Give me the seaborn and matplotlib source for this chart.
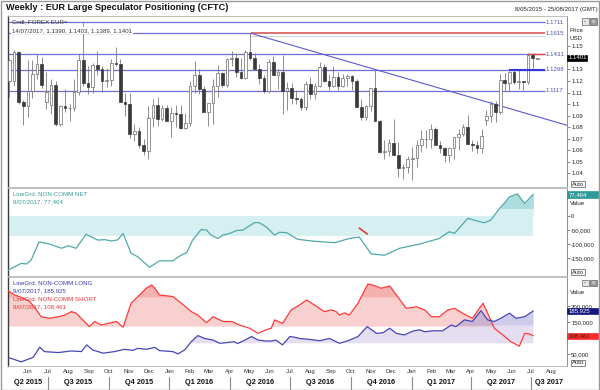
import matplotlib
matplotlib.use('Agg')
import matplotlib.pyplot as plt
import matplotlib.dates as mdates
import matplotlib.transforms as mtrans
from matplotlib.patches import Rectangle
from matplotlib.lines import Line2D
import numpy as np
import pandas as pd
import seaborn as sns

sns.set_theme(style='white')
plt.rcParams['font.family'] = ['Liberation Sans', 'DejaVu Sans']

# ---- weekly EUR= candles (week starting monday) ----
week_start = pd.date_range('2015-05-04', '2017-07-10', freq='7D')
opens = [1.1200, 1.1200, 1.1450, 1.1015, 1.0987, 1.1111, 1.1262, 1.1350, 1.1020, 1.0990,
         1.1165, 1.0830, 1.0983, 1.0963, 1.0967, 1.1105, 1.1384, 1.1183, 1.1150, 1.1337,
         1.1300, 1.1197, 1.1210, 1.1357, 1.1350, 1.1017, 1.1000, 1.0742, 1.0768, 1.0646,
         1.0593, 1.0882, 1.0988, 1.0867, 1.0967, 1.0855, 1.0922, 1.0915, 1.0795, 1.0831,
         1.1155, 1.1256, 1.1130, 1.0933, 1.1005, 1.1155, 1.1270, 1.1168, 1.1390, 1.1398,
         1.1281, 1.1224, 1.1453, 1.1400, 1.1308, 1.1225, 1.1113, 1.1367, 1.1250, 1.1281,
         1.1117, 1.1135, 1.1053, 1.1040, 1.0976, 1.1175, 1.1086, 1.1160, 1.1325, 1.1198,
         1.1154, 1.1233, 1.1153, 1.1225, 1.1240, 1.1201, 1.0971, 1.0884, 1.0985, 1.1140,
         1.0851, 1.0587, 1.0590, 1.0665, 1.0560, 1.0447, 1.0453, 1.0520, 1.0530, 1.0645,
         1.0700, 1.0696, 1.0784, 1.0640, 1.0614, 1.0560, 1.0620, 1.0715, 1.0740, 1.0797,
         1.0652, 1.0640, 1.0615, 1.0860, 1.0895, 1.0998, 1.0933, 1.1205, 1.1180, 1.1280,
         1.1195, 1.1197, 1.1195, 1.1424, 1.1390]
highs = [1.1391, 1.1467, 1.1460, 1.1039, 1.1385, 1.1386, 1.1436, 1.1410, 1.1278, 1.1215,
         1.1200, 1.0995, 1.1130, 1.1000, 1.1214, 1.1439, 1.1714, 1.1332, 1.1360, 1.1460,
         1.1330, 1.1317, 1.1387, 1.1495, 1.1390, 1.1095, 1.1095, 1.0830, 1.0800, 1.0700,
         1.0981, 1.1043, 1.1059, 1.0990, 1.0990, 1.0970, 1.0990, 1.0990, 1.0925, 1.1200,
         1.1376, 1.1300, 1.1160, 1.1010, 1.1218, 1.1342, 1.1278, 1.1400, 1.1465, 1.1440,
         1.1398, 1.1470, 1.1616, 1.1445, 1.1350, 1.1250, 1.1395, 1.1415, 1.1300, 1.1427,
         1.1187, 1.1185, 1.1120, 1.1060, 1.1200, 1.1235, 1.1185, 1.1366, 1.1345, 1.1250,
         1.1327, 1.1282, 1.1257, 1.1260, 1.1250, 1.1215, 1.1040, 1.0990, 1.1140, 1.1300,
         1.0860, 1.0686, 1.0700, 1.0873, 1.0670, 1.0480, 1.0550, 1.0630, 1.0685, 1.0775,
         1.0775, 1.0829, 1.0800, 1.0680, 1.0630, 1.0630, 1.0715, 1.0785, 1.0828, 1.0905,
         1.0690, 1.0680, 1.0780, 1.0951, 1.1024, 1.1022, 1.1265, 1.1268, 1.1285, 1.1296,
         1.1296, 1.1200, 1.1445, 1.1445, 1.1403]
lows = [1.1064, 1.1160, 1.1000, 1.0819, 1.0888, 1.1050, 1.1220, 1.1135, 1.0955, 1.0915,
        1.0808, 1.0808, 1.0930, 1.0848, 1.0937, 1.1080, 1.1157, 1.1087, 1.1100, 1.1250,
        1.1106, 1.1150, 1.1160, 1.1330, 1.1020, 1.0895, 1.0705, 1.0675, 1.0615, 1.0560,
        1.0524, 1.0800, 1.0805, 1.0850, 1.0850, 1.0711, 1.0804, 1.0780, 1.0780, 1.0810,
        1.1100, 1.1090, 1.0950, 1.0810, 1.0822, 1.1057, 1.1144, 1.1144, 1.1330, 1.1233,
        1.1214, 1.1215, 1.1380, 1.1308, 1.1175, 1.1095, 1.1100, 1.1250, 1.1130, 1.0912,
        1.0950, 1.1000, 1.1000, 1.0952, 1.0950, 1.1045, 1.1045, 1.1150, 1.1190, 1.1120,
        1.1150, 1.1120, 1.1150, 1.1160, 1.1123, 1.0970, 1.0860, 1.0860, 1.0940, 1.0850,
        1.0570, 1.0520, 1.0550, 1.0560, 1.0367, 1.0352, 1.0400, 1.0340, 1.0450, 1.0580,
        1.0620, 1.0620, 1.0640, 1.0570, 1.0494, 1.0495, 1.0525, 1.0600, 1.0725, 1.0650,
        1.0590, 1.0570, 1.0570, 1.0820, 1.0840, 1.0840, 1.0910, 1.1110, 1.1110, 1.1170,
        1.1130, 1.1120, 1.1170, 1.1310, 1.1389]
closes = [1.1380, 1.1452, 1.1015, 1.0987, 1.1111, 1.1262, 1.1350, 1.1165, 1.1105, 1.1165,
          1.0830, 1.0983, 1.0963, 1.0967, 1.1105, 1.1384, 1.1183, 1.1150, 1.1337, 1.1300,
          1.1197, 1.1210, 1.1357, 1.1350, 1.1017, 1.1000, 1.0742, 1.0768, 1.0646, 1.0593,
          1.0882, 1.0988, 1.0867, 1.0967, 1.0855, 1.0922, 1.0915, 1.0795, 1.0831, 1.1155,
          1.1256, 1.1130, 1.0933, 1.1005, 1.1155, 1.1270, 1.1168, 1.1390, 1.1398, 1.1281,
          1.1224, 1.1453, 1.1400, 1.1308, 1.1225, 1.1113, 1.1367, 1.1250, 1.1281, 1.1117,
          1.1135, 1.1053, 1.1040, 1.0976, 1.1175, 1.1086, 1.1160, 1.1325, 1.1198, 1.1154,
          1.1233, 1.1153, 1.1225, 1.1240, 1.1201, 1.0971, 1.0884, 1.0985, 1.1140, 1.0851,
          1.0587, 1.0590, 1.0665, 1.0560, 1.0447, 1.0453, 1.0520, 1.0530, 1.0645, 1.0700,
          1.0696, 1.0784, 1.0640, 1.0614, 1.0560, 1.0620, 1.0715, 1.0740, 1.0797, 1.0652,
          1.0640, 1.0615, 1.0725, 1.0895, 1.0998, 1.0933, 1.1205, 1.1180, 1.1280, 1.1195,
          1.1197, 1.1195, 1.1424, 1.1398, 1.1401]

# support / resistance levels and trend line
levels = [1.1711, 1.1615, 1.1431, 1.1298, 1.1117]
trend_dates = ['2016-05-03', '2017-08-24']
trend_vals = [1.1615, 1.0815]

# ---- CFTC non-commercial positions ----
net_dates = ['2015-05-02', '2015-05-22', '2015-05-30', '2015-06-06', '2015-06-18', '2015-07-04', '2015-07-22',
             '2015-08-01', '2015-08-13', '2015-08-28', '2015-09-15', '2015-09-25', '2015-10-05', '2015-10-15',
             '2015-10-23', '2015-11-04', '2015-11-14', '2015-12-02', '2015-12-17', '2016-01-06', '2016-01-19',
             '2016-01-27', '2016-02-05', '2016-02-18', '2016-02-26', '2016-03-04', '2016-03-14', '2016-03-22',
             '2016-04-01', '2016-04-11', '2016-04-21', '2016-05-09', '2016-05-16', '2016-05-26', '2016-06-08',
             '2016-06-15', '2016-06-26', '2016-07-13', '2016-08-07', '2016-09-07', '2016-09-29', '2016-10-14',
             '2016-11-01', '2016-11-21', '2016-12-14', '2017-01-13', '2017-02-12', '2017-02-27', '2017-03-07',
             '2017-03-27', '2017-04-09', '2017-04-21', '2017-05-01', '2017-05-14', '2017-05-21', '2017-05-29',
             '2017-06-10', '2017-06-21', '2017-07-04']
net_vals = [-193000, -169000, -171000, -157000, -92000, -100000, -115000, -106000, -115000, -65000,
            -86000, -84000, -89000, -85000, -62000, -133000, -145000, -183000, -160000, -160000,
            -139000, -131000, -86000, -48000, -50000, -68000, -80000, -68000, -62000, -52000,
            -50000, -23000, -24000, -38000, -68000, -58000, -59000, -83000, -90000, -95000,
            -80000, -75000, -135000, -140000, -115000, -100000, -80000, -56000, -62000, -8000,
            -17000, -24000, -14000, 27000, 45000, 69000, 79000, 45000, 77464]

long_dates = ['2015-05-02', '2015-05-22', '2015-06-09', '2015-06-19', '2015-06-26', '2015-07-17', '2015-08-06',
              '2015-08-21', '2015-08-29', '2015-09-07', '2015-09-23', '2015-10-10', '2015-10-25', '2015-11-07',
              '2015-11-14', '2015-11-27', '2015-12-10', '2015-12-17', '2016-01-06', '2016-01-14', '2016-01-24',
              '2016-02-03', '2016-02-13', '2016-02-23', '2016-03-07', '2016-03-17', '2016-03-27', '2016-04-08',
              '2016-04-13', '2016-04-24', '2016-05-04', '2016-05-14', '2016-05-26', '2016-06-03', '2016-06-10',
              '2016-06-20', '2016-07-01', '2016-07-08', '2016-07-16', '2016-07-31', '2016-08-15', '2016-08-30',
              '2016-09-14', '2016-09-27', '2016-10-12', '2016-10-26', '2016-11-09', '2016-11-19', '2016-11-29',
              '2016-12-09', '2016-12-21', '2017-01-03', '2017-01-13', '2017-01-21', '2017-02-02', '2017-02-17',
              '2017-03-02', '2017-03-09', '2017-03-22', '2017-04-03', '2017-04-16', '2017-04-26', '2017-05-06',
              '2017-05-16', '2017-05-29', '2017-06-08', '2017-06-21', '2017-07-04']
long_vals = [41000, 27000, 41000, 73000, 59000, 56000, 61000, 59000, 80000, 64000,
             54000, 59000, 66000, 63000, 69000, 66000, 72000, 62000, 59000, 52000,
             64000, 90000, 109000, 100000, 95000, 85000, 87000, 90000, 84000, 95000,
             106000, 95000, 92000, 92000, 95000, 80000, 106000, 104000, 100000, 97000,
             93000, 100000, 85000, 93000, 106000, 137000, 116000, 118000, 132000, 116000,
             111000, 123000, 127000, 121000, 124000, 124000, 142000, 137000, 158000, 153000,
             187000, 158000, 153000, 163000, 179000, 163000, 168000, 185925]

short_dates = ['2015-05-02', '2015-05-12', '2015-05-25', '2015-06-04', '2015-06-14', '2015-06-21', '2015-07-04',
               '2015-07-17', '2015-07-27', '2015-08-06', '2015-08-13', '2015-08-23', '2015-09-02', '2015-09-10',
               '2015-09-20', '2015-09-30', '2015-10-13', '2015-10-23', '2015-11-04', '2015-11-17', '2015-11-27',
               '2015-12-05', '2015-12-10', '2015-12-17', '2016-01-06', '2016-01-19', '2016-02-03', '2016-02-13',
               '2016-02-26', '2016-03-07', '2016-03-22', '2016-04-04', '2016-04-16', '2016-05-01', '2016-05-14',
               '2016-05-26', '2016-06-03', '2016-06-08', '2016-06-20', '2016-07-03', '2016-07-16', '2016-07-26',
               '2016-08-07', '2016-08-22', '2016-09-02', '2016-09-09', '2016-09-14', '2016-09-22', '2016-09-29',
               '2016-10-12', '2016-10-27', '2016-11-03', '2016-11-16', '2016-11-29', '2016-12-09', '2016-12-24',
               '2017-01-08', '2017-01-21', '2017-01-31', '2017-02-12', '2017-02-25', '2017-03-07', '2017-03-19',
               '2017-04-03', '2017-04-19', '2017-04-26', '2017-05-06', '2017-05-19', '2017-05-31', '2017-06-13',
               '2017-06-21', '2017-06-28', '2017-07-04']
short_vals = [249000, 236000, 226000, 215000, 189000, 168000, 163000, 168000, 173000, 184000,
              179000, 158000, 137000, 153000, 142000, 147000, 153000, 135000, 210000, 236000,
              257000, 267000, 257000, 236000, 231000, 210000, 184000, 173000, 149000, 168000,
              153000, 153000, 142000, 132000, 116000, 127000, 132000, 158000, 147000, 189000,
              205000, 220000, 205000, 184000, 189000, 184000, 173000, 180000, 173000, 210000,
              270000, 267000, 257000, 264000, 236000, 194000, 199000, 189000, 168000, 168000,
              189000, 194000, 179000, 163000, 210000, 179000, 132000, 111000, 90000, 76000,
              116000, 114000, 108461]

# little red drawing on the net pane
mark_dates = ['2016-10-14', '2016-10-26']
mark_vals = [-43000, -64000]

W, H = 600, 390
fig = plt.figure(figsize=(6, 3.9), dpi=100)


def pane(x0, y0, x1, y1):
    return fig.add_axes([x0 / W, 1 - y1 / H, (x1 - x0) / W, (y1 - y0) / H])


def put(x, y, s, **kw):
    kw.setdefault('fontsize', 4.4)
    kw.setdefault('va', 'center')
    kw.setdefault('color', '#222222')
    return fig.text(x / W, 1 - y / H, s, **kw)


ax1 = pane(8, 16, 567, 186.5)
ax2 = pane(8, 187.5, 567, 276)
ax3 = pane(8, 277, 567, 366)
xlo, xhi = pd.Timestamp('2015-05-02'), pd.Timestamp('2017-08-24')
line_end = pd.Timestamp('2017-07-21')
lab_date = pd.Timestamp('2017-07-23')

# ---- price pane ----
o = np.array(opens)
c = np.array(closes)
up = c >= o
blo = np.minimum(o, c)
bh = np.maximum(np.abs(c - o), 0.0004)
ax1.vlines(week_start, lows, highs, color='#7a7a7a', lw=0.6, zorder=3)
ax1.bar(week_start[up], bh[up], bottom=blo[up], width=4.0, color='white',
        edgecolor='#6a6a6a', linewidth=0.5, zorder=4)
ax1.bar(week_start[~up], bh[~up], bottom=blo[~up], width=4.0, color='#3a3a3a',
        edgecolor='#3a3a3a', linewidth=0.5, zorder=4)

hcol = '#6f6fd6'
peak = pd.Timestamp(trend_dates[0])
ax1.hlines(levels[0], xlo, line_end, color=hcol, lw=0.9, zorder=2)
ax1.hlines(levels[1], xlo, peak, color=hcol, lw=0.9, zorder=2)
ax1.hlines(levels[1] - 0.0022, peak, line_end, color='#d4d4d4', lw=0.8, zorder=2)
ax1.hlines(levels[1], peak, line_end, color='#d64848', lw=1.1, zorder=2)
ax1.hlines(levels[2], xlo, line_end, color=hcol, lw=0.9, zorder=2)
ax1.hlines(levels[2], pd.Timestamp('2017-06-26'), line_end, color='#d64848', lw=1.0, zorder=5)
ax1.hlines(levels[3], xlo, line_end, color=hcol, lw=0.9, zorder=2)
ax1.hlines(levels[3], pd.Timestamp('2017-05-29'), line_end, color='#3535d8', lw=1.5, zorder=5)
ax1.hlines(levels[4], xlo, line_end, color=hcol, lw=0.9, zorder=2)
ax1.plot(pd.to_datetime(trend_dates), trend_vals, color='#5a5ad0', lw=0.8, zorder=2)
for lv in levels:
    ax1.text(lab_date, lv, f'{lv:.4f}', color='#4f4fb8', fontsize=4.4, va='center', zorder=6)

ax1.set_ylim(1.0283, 1.1765)
# 1.14 sits under the last-price box, so it is left out
pt = [1.04, 1.05, 1.06, 1.07, 1.08, 1.09, 1.10, 1.11, 1.12, 1.13, 1.15]
ax1.set_yticks(pt)
ax1.set_yticklabels(['1.1' if abs(v - 1.1) < 1e-9 else f'{v:.2f}' for v in pt])
for t in ax1.get_yticklabels():
    if t.get_text() == '1.1':
        t.set_fontweight('bold')
        t.set_fontsize(5.2)

# ---- net pane ----
net = pd.DataFrame({'date': pd.to_datetime(net_dates), 'value': net_vals})
nv = net['value'].to_numpy()
ax2.fill_between(net['date'].iloc[[0, -1]], -71000, 0, color='#d6f0f1', lw=0, zorder=1)
ax2.fill_between(net['date'], nv, 0, where=nv > 0, interpolate=True, color='#d6f0f1', lw=0, zorder=1)
ax2.fill_between(net['date'], nv, 27000, where=nv > 27000, interpolate=True, color='#aedddd', lw=0, zorder=1)
sns.lineplot(data=net, x='date', y='value', ax=ax2, color='#4fa9a9', lw=0.9, estimator=None, zorder=3)
ax2.plot(pd.to_datetime(mark_dates), mark_vals, color='#e03a3a', lw=1.2, zorder=4)
ax2.set_ylim(-214000, 102000)
nt = [0, -50000, -100000, -150000]
ax2.set_yticks(nt)
ax2.set_yticklabels([f'{v:,}' for v in nt])
ax2.get_yticklabels()[0].set_fontweight('bold')

# ---- long / short pane ----
lng = pd.DataFrame({'date': pd.to_datetime(long_dates), 'value': long_vals})
sht = pd.DataFrame({'date': pd.to_datetime(short_dates), 'value': short_vals})
lv_ = lng['value'].to_numpy()
sv_ = sht['value'].to_numpy()
ax3.fill_between(sht['date'], sv_, 137000, where=sv_ > 137000, interpolate=True,
                 color='#ee6666', alpha=0.3, lw=0, zorder=1)
ax3.fill_between(sht['date'], sv_, 228000, where=sv_ > 228000, interpolate=True,
                 color='#ee6666', alpha=0.3, lw=0, zorder=1)
ax3.fill_between(lng['date'], lv_, 85000, where=lv_ > 85000, interpolate=True,
                 color='#9a7fc4', alpha=0.25, lw=0, zorder=1)
ax3.fill_between(lng['date'], lv_, 142000, where=lv_ > 142000, interpolate=True,
                 color='#8a9ae0', alpha=0.25, lw=0, zorder=1)
sns.lineplot(data=sht, x='date', y='value', ax=ax3, color='#ff3b3b', lw=0.9, estimator=None, zorder=3)
sns.lineplot(data=lng, x='date', y='value', ax=ax3, color='#4646b8', lw=0.9, estimator=None, zorder=3)
ax3.set_ylim(14000, 292000)
# 100,000 sits under the short box
lt = [50000, 150000, 200000]
ax3.set_yticks(lt)
ax3.set_yticklabels([f'{v:,}' for v in lt])

# ---- shared axis styling ----
for ax in (ax1, ax2, ax3):
    ax.set_xlim(xlo, xhi)
    ax.set_xlabel('')
    ax.set_ylabel('')
    ax.yaxis.tick_right()
    ax.tick_params(axis='y', direction='out', length=2, width=0.5, color='#555555',
                   labelsize=4.3, pad=1, labelcolor='#222222')
    ax.grid(False)
    ax.set_facecolor('white')
    for s in ax.spines.values():
        s.set_color('#b4b4b4')
        s.set_linewidth(0.6)
    ax.spines['left'].set_color('#3a3a3a')
    ax.spines['left'].set_linewidth(1.0)
    ax.spines['right'].set_color('#8c8c8c')
    ax.spines['right'].set_linewidth(0.7)
for ax in (ax1, ax2):
    ax.tick_params(axis='x', bottom=False, labelbottom=False)
ax3.xaxis.set_major_locator(mdates.MonthLocator())
ax3.xaxis.set_major_formatter(mdates.DateFormatter('%b'))
ax3.tick_params(axis='x', length=0, labelsize=4.3, pad=2, labelcolor='#333333')

# quarter row under the months
qt = mtrans.blended_transform_factory(ax3.transData, fig.transFigure)
qb = pd.date_range('2015-04-01', '2017-10-01', freq='QS')
for a, b in zip(qb[:-1], qb[1:]):
    a2, b2 = max(a, xlo), min(b, xhi)
    mid = a2 + (b2 - a2) / 2
    fig.text(mdates.date2num(mid), 1 - 383 / H, f'Q{(a.month - 1) // 3 + 1} {a.year}', transform=qt,
             ha='center', va='center', fontsize=5.3, fontweight='bold', color='#111111')
    if a > xlo:
        fig.add_artist(Line2D([mdates.date2num(a)] * 2, [1 - 389 / H, 1 - 377 / H], transform=qt,
                              color='#8a8a8a', lw=0.8))

# value boxes on the right axes
def vbox(ax, val, txt, fc, tc, x0=567, x1=598, h=6.5):
    yd = ax.transData.transform((mdates.date2num(xlo), val))[1]
    fig.add_artist(Rectangle((x0 / W, (yd - h / 2) / H), (x1 - x0) / W, h / H,
                             transform=fig.transFigure, fc=fc, ec=fc, lw=0.5, zorder=10))
    fig.text((x0 + 1.5) / W, yd / H, txt, color=tc, fontsize=4.3, va='center', zorder=11)


vbox(ax1, closes[-1], '1.1401', '#000000', 'white', x1=587)
vbox(ax2, net_vals[-1], '77,464', '#2f9a9a', 'white')
vbox(ax3, long_vals[-1], '185,925', '#15157e', 'white')
vbox(ax3, short_vals[-1], '108,461', '#ff2a2a', '#222222')


def auto_box(y):
    fig.add_artist(Rectangle((571 / W, 1 - (y + 3) / H), 14 / W, 6 / H, transform=fig.transFigure,
                             fc='white', ec='#555555', lw=0.5, zorder=10))
    put(572, y, 'Auto', fontsize=4.2, zorder=11)


for yy in (184, 272, 363):
    auto_box(yy)


def icons(y):
    for xx, fc in ((582, '#e6e6e6'), (590, '#9a9a9a')):
        fig.add_artist(Rectangle((xx / W, 1 - (y + 6.5) / H), 6.5 / W, 6.5 / H,
                                 transform=fig.transFigure, fc=fc, ec='#666666', lw=0.5, zorder=10))
    put(585.2, y + 3, '-', fontsize=4.5, ha='center', zorder=11)
    put(593.2, y + 3, 'x', fontsize=4.5, ha='center', color='white', zorder=11)


icons(18.5)
icons(279.5)

# texts
put(6, 8, 'Weekly : EUR Large Speculator Positioning (CFTC)', fontsize=6.6, fontweight='bold', color='#111111')
put(598, 9.5, '8/05/2015 - 25/08/2017 (GMT)', ha='right')
put(12, 21.5, 'Cndl, FOREX EUR=', color='#333333')
put(12, 30.5, '14/07/2017, 1.1390, 1.1403, 1.1389, 1.1401', color='#333333',
    bbox=dict(fc='white', ec='none', pad=0.6))
put(570, 30, 'Price')
put(570, 38.5, 'USD')
put(570, 203, 'Value')
put(570, 292, 'Value')
put(13, 193.5, 'LineGrd, NON-COMM NET', color='#3a9a9a')
put(13, 202, '9/07/2017, 77,464', color='#3a9a9a')
put(13, 282.5, 'LineGrd, NON-COMM LONG', color='#3838a8')
put(13, 290.5, '9/07/2017, 185,925', color='#3838a8')
put(13, 299, 'LineGrd, NON-COMM SHORT', color='#ee3030')
put(13, 307, '9/07/2017, 108,461', color='#ee3030')

fig.add_artist(Rectangle((0.001, 0.001), 0.998, 0.997, transform=fig.transFigure,
                         fill=False, ec='#9a9a9a', lw=1.0))

fig.savefig('out.png', dpi=100)
